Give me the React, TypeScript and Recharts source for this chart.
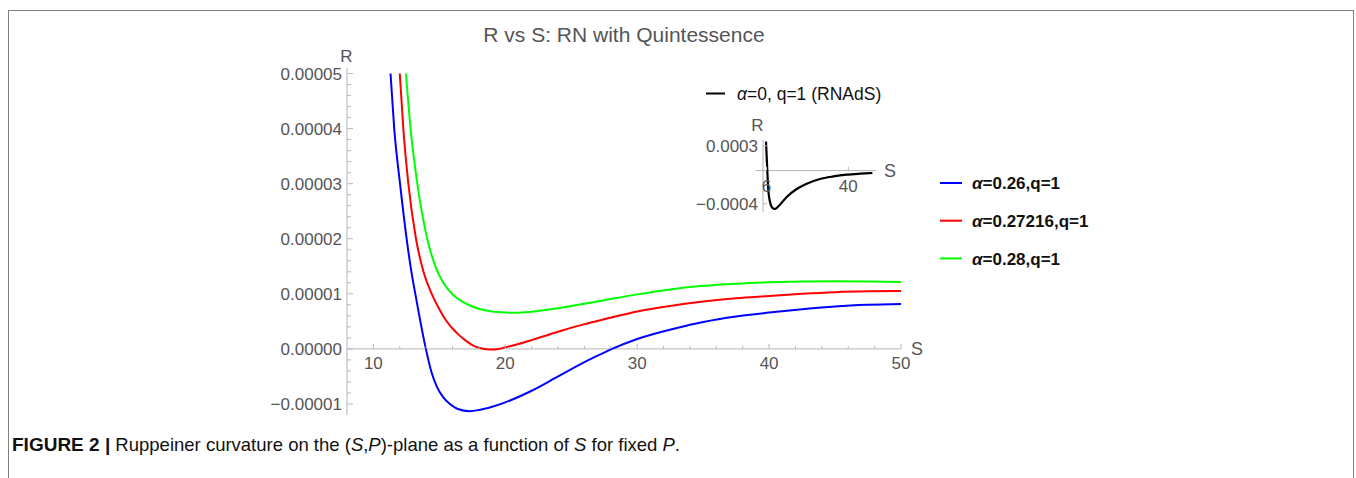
import React from 'react';
import { LineChart, Line, XAxis, YAxis, ReferenceLine, ReferenceDot, Legend } from 'recharts';

const FONT = '"Liberation Sans", Arial, Helvetica, sans-serif';
const AXIS = '#b3b3b3';
const TICK = '#b8b8b8';
const LABEL = '#555555';

// ---------- main chart data (S, R) ----------
const sBlue = [11.3, 11.58, 12.02, 12.52, 12.85, 13.23, 13.6, 13.98, 14.4, 14.8, 15.3, 15.8, 16.4, 17.3, 18.0, 19.0, 20.0, 22.0, 24.0, 26.0, 27.2, 28.0, 30.0, 33.0, 35.0, 37.5, 40.0, 42.5, 45.0, 47.5, 50.0];
const rBlue = [5.0e-5, 4.0e-5, 3.0e-5, 2.0e-5, 1.45e-5, 0.93e-5, 0.45e-5, 0.0, -0.42e-5, -0.68e-5, -0.88e-5, -1.0e-5, -1.09e-5, -1.13e-5, -1.11e-5, -1.05e-5, -0.97e-5, -0.76e-5, -0.5e-5, -0.24e-5, -0.1e-5, -0.01e-5, 0.18e-5, 0.38e-5, 0.49e-5, 0.59e-5, 0.66e-5, 0.72e-5, 0.77e-5, 0.8e-5, 0.815e-5];

const sRed = [12.0, 12.27, 12.65, 13.23, 13.8, 14.42, 15.0, 15.5, 16.0, 16.5, 17.0, 17.5, 18.0, 18.8, 19.5, 20.0, 21.0, 22.0, 24.0, 26.0, 27.2, 30.0, 32.5, 35.0, 37.5, 40.0, 42.5, 45.0, 47.5, 50.0];
const rRed = [5.0e-5, 4.0e-5, 3.0e-5, 2.0e-5, 1.4e-5, 1.0e-5, 0.72e-5, 0.52e-5, 0.37e-5, 0.25e-5, 0.15e-5, 0.07e-5, 0.02e-5, -0.01e-5, 0.0, 0.03e-5, 0.09e-5, 0.16e-5, 0.31e-5, 0.45e-5, 0.52e-5, 0.68e-5, 0.78e-5, 0.86e-5, 0.92e-5, 0.96e-5, 1.0e-5, 1.03e-5, 1.045e-5, 1.05e-5];

const sGreen = [12.47, 12.82, 13.33, 14.08, 14.7, 15.3, 16.05, 16.8, 17.5, 18.2, 19.0, 20.0, 20.5, 21.0, 22.0, 23.0, 24.0, 26.0, 27.2, 30.0, 32.5, 35.0, 37.5, 40.0, 42.5, 45.0, 47.5, 50.0];
const rGreen = [5.0e-5, 4.0e-5, 3.0e-5, 2.0e-5, 1.5e-5, 1.2e-5, 0.98e-5, 0.85e-5, 0.77e-5, 0.715e-5, 0.68e-5, 0.66e-5, 0.655e-5, 0.658e-5, 0.675e-5, 0.705e-5, 0.74e-5, 0.82e-5, 0.87e-5, 0.99e-5, 1.08e-5, 1.145e-5, 1.185e-5, 1.21e-5, 1.225e-5, 1.23e-5, 1.225e-5, 1.215e-5];

const seriesNames = ['α=0.26,q=1', 'α=0.27216,q=1', 'α=0.28,q=1'];
const seriesColors = ['#0000ff', '#ff0000', '#00ff00'];

const xMajorTicks = [10, 20, 30, 40, 50];
const xMinorTicks = [12, 14, 16, 18, 22, 24, 26, 28, 32, 34, 36, 38, 42, 44, 46, 48];
const yMajorTicks = [-0.00001, 0, 0.00001, 0.00002, 0.00003, 0.00004, 0.00005];
const yMinorTicks = [-0.000008, -0.000006, -0.000004, -0.000002, 0.000002, 0.000004, 0.000006, 0.000008, 0.000012, 0.000014, 0.000016, 0.000018, 0.000022, 0.000024, 0.000026, 0.000028, 0.000032, 0.000034, 0.000036, 0.000038, 0.000042, 0.000044, 0.000046, 0.000048];

// ---------- inset chart data (RNAdS) ----------
const insetName = 'α=0, q=1 (RNAdS)';
const sInset = [5.8, 6.0, 6.2, 6.4, 6.75, 7.2, 7.7, 8.2, 8.8, 9.5, 10.3, 11.6, 14.4, 18.55, 22.7, 28.2, 33.8, 39.3, 44.9, 50.0];
const rInset = [3.5e-4, 2.2e-4, 0.9e-4, -0.4e-4, -2.3e-4, -3.4e-4, -4.05e-4, -4.4e-4, -4.58e-4, -4.63e-4, -4.5e-4, -4.11e-4, -3.18e-4, -2.22e-4, -1.58e-4, -1.01e-4, -0.7e-4, -0.49e-4, -0.37e-4, -0.29e-4];
const insetXTicks = [6, 40];
const insetYTicks = [0.0003, -0.0004];

const toRows = (s: number[], r: number[]) => s.map((v, i) => ({ S: v, R: r[i] }));
const blueData = toRows(sBlue, rBlue);
const redData = toRows(sRed, rRed);
const greenData = toRows(sGreen, rGreen);
const insetData = toRows(sInset, rInset);
const mainSeries = [blueData, redData, greenData];

const fmtNum = (v: number, digits: number) =>
  (v < 0 ? '\u2212' : '') + Math.abs(v).toFixed(digits);

const makeYTick = (majors: number[], digits: number, majorLen: number, minorLen: number) =>
  (props: any) => {
    const { x, y, payload } = props;
    const v = Number(payload.value);
    const isMajor = majors.some((m) => Math.abs(m - v) < 1e-12);
    return (
      <g>
        <line x1={x} x2={x + (isMajor ? majorLen : minorLen)} y1={y} y2={y} stroke={TICK} strokeWidth={1} />
        {isMajor && (
          <text x={x - 5} y={y} dy="0.36em" textAnchor="end" fontSize={17} fontFamily={FONT} fill={LABEL}>
            {fmtNum(v, digits)}
          </text>
        )}
      </g>
    );
  };

const xTickShape = (label: string, len: number, labelDy: number) => (p: any) => (
  <g>
    <line x1={p.cx} x2={p.cx} y1={p.cy} y2={p.cy - len} stroke={TICK} strokeWidth={1} />
    {label !== '' && (
      <text x={p.cx} y={p.cy + labelDy} dy="0.36em" textAnchor="middle" fontSize={17} fontFamily={FONT} fill={LABEL}>
        {label}
      </text>
    )}
  </g>
);

const legendText = (name: string, bold: boolean, x: number, y: number, size: number) => (
  <text x={x} y={y} dy="0.36em" fontSize={size} fontWeight={bold ? 'bold' : 'normal'} fontFamily={FONT} fill="#111">
    <tspan fontStyle="italic">{name.charAt(0)}</tspan>
    {name.slice(1)}
  </text>
);

const MainLegend = (props: any) => {
  const payload = props.payload || [];
  return (
    <svg width={200} height={115} style={{ display: 'block' }}>
      {payload.map((e: any, i: number) => {
        const y = 18 + i * 37.7;
        return (
          <g key={i}>
            <line x1={10} x2={32} y1={y} y2={y} stroke={e.color} strokeWidth={2} />
            {legendText(String(e.value), true, 42, y, 17)}
          </g>
        );
      })}
    </svg>
  );
};

const InsetLegend = (props: any) => {
  const payload = props.payload || [];
  return (
    <svg width={200} height={28} style={{ display: 'block' }}>
      {payload.map((e: any, i: number) => (
        <g key={i}>
          <line x1={6} x2={25} y1={13.5} y2={13.5} stroke={e.color} strokeWidth={2} />
          {legendText(String(e.value), false, 37, 13.5, 17.5)}
        </g>
      ))}
    </svg>
  );
};

export default function App() {
  return (
    <div style={{ position: 'absolute', left: 0, top: 0, width: 1356, height: 478, background: '#fff', overflow: 'hidden' }}>
      <div style={{ position: 'absolute', left: 8, top: 10, width: 1344, height: 480, border: '1px solid #808080', borderBottom: 'none' }} />

      <div style={{ position: 'absolute', left: 424, top: 23, width: 400, textAlign: 'center', fontFamily: FONT, fontSize: 21, lineHeight: '24px', color: LABEL, whiteSpace: 'nowrap' }}>
        R vs S: RN with Quintessence
      </div>

      <div style={{ position: 'absolute', left: 0, top: 0 }}>
        <LineChart width={1356} height={478} margin={{ top: 68, left: 346, right: 455, bottom: 63 }}>
          <XAxis type="number" dataKey="S" domain={[8, 50]} allowDataOverflow hide />
          <YAxis
            type="number"
            domain={[-0.000012, 0.000051]}
            allowDataOverflow
            width={1}
            ticks={[...yMajorTicks, ...yMinorTicks]}
            interval={0}
            tickSize={0}
            tickMargin={0}
            tick={makeYTick(yMajorTicks, 5, 6, 4)}
            axisLine={{ stroke: AXIS, strokeWidth: 1 }}
            tickLine={false}
            label={{ value: 'R', position: 'top', offset: 6, fill: LABEL, fontSize: 17, fontFamily: FONT }}
          />
          <ReferenceLine
            y={0}
            stroke={AXIS}
            strokeWidth={1}
            label={{ value: 'S', position: 'right', offset: 10, fill: LABEL, fontSize: 18, fontFamily: FONT }}
          />
          {xMinorTicks.map((v) => (
            <ReferenceDot key={'mn' + v} x={v} y={0} r={0} shape={xTickShape('', 3, 14)} />
          ))}
          {xMajorTicks.map((v) => (
            <ReferenceDot key={'mj' + v} x={v} y={0} r={0} shape={xTickShape(String(v), 5, 14)} />
          ))}
          {mainSeries.map((d, i) => (
            <Line
              key={seriesNames[i]}
              data={d}
              dataKey="R"
              name={seriesNames[i]}
              type="monotone"
              stroke={seriesColors[i]}
              strokeWidth={2}
              dot={false}
              activeDot={false}
              isAnimationActive={false}
            />
          ))}
          <Legend
            layout="vertical"
            align="center"
            verticalAlign="middle"
            content={MainLegend}
            wrapperStyle={{ left: 930, top: 165, width: 200 }}
          />
        </LineChart>
      </div>

      <div style={{ position: 'absolute', left: 680, top: 80 }}>
        <LineChart width={220} height={150} margin={{ top: 60, left: 82, right: 24, bottom: 18 }}>
          <XAxis type="number" dataKey="S" domain={[4.55, 51.5]} allowDataOverflow hide />
          <YAxis
            type="number"
            domain={[-0.0005, 0.00037]}
            allowDataOverflow
            width={1}
            ticks={insetYTicks}
            interval={0}
            tickSize={0}
            tickMargin={0}
            tick={makeYTick(insetYTicks, 4, 4, 3)}
            axisLine={{ stroke: AXIS, strokeWidth: 1 }}
            tickLine={false}
            label={{ value: 'R', position: 'top', offset: 9, dx: -5, fill: LABEL, fontSize: 17, fontFamily: FONT }}
          />
          <ReferenceLine
            segment={[{ x: 1.6, y: 0 }, { x: 51.5, y: 0 }]}
            ifOverflow="visible"
            stroke={AXIS}
            strokeWidth={1}
            label={{ value: 'S', position: 'right', offset: 8, fill: LABEL, fontSize: 18, fontFamily: FONT }}
          />
          {insetXTicks.map((v) => (
            <ReferenceDot key={'ix' + v} x={v} y={0} r={0} shape={xTickShape(String(v), 4, 15)} />
          ))}
          <Line
            data={insetData}
            dataKey="R"
            name={insetName}
            type="monotone"
            stroke="#000000"
            strokeWidth={2.2}
            dot={false}
            activeDot={false}
            isAnimationActive={false}
          />
          <Legend
            layout="vertical"
            align="center"
            verticalAlign="middle"
            content={InsetLegend}
            wrapperStyle={{ left: 20, top: 0, width: 200 }}
          />
        </LineChart>
      </div>

      <div style={{ position: 'absolute', left: 12, top: 435, fontFamily: FONT, fontSize: 18.5, lineHeight: '20px', color: '#111', whiteSpace: 'nowrap' }}>
        <b style={{ fontSize: 19 }}>FIGURE 2 |</b> Ruppeiner curvature on the (<i>S</i>,<i>P</i>)-plane as a function of <i>S</i> for fixed <i>P</i>.
      </div>
    </div>
  );
}
